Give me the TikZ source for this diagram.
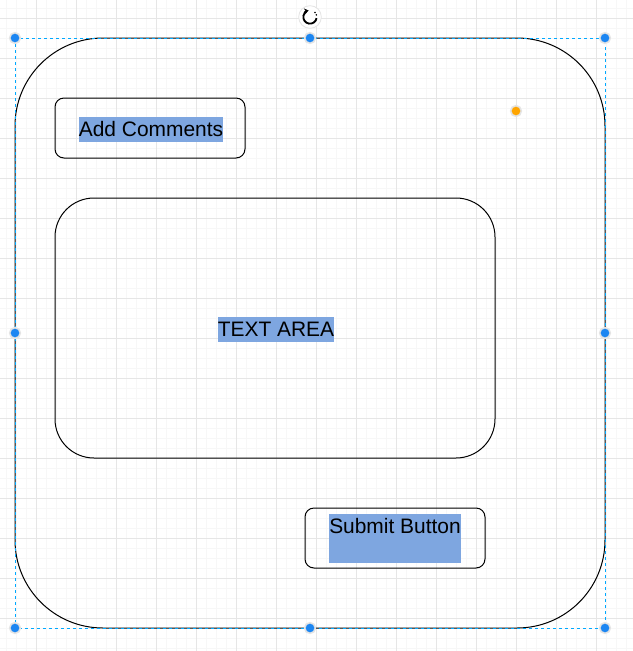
\documentclass[tikz,border=0pt]{standalone}
\usepackage{fontspec}
\setmainfont{Liberation Sans}
\usetikzlibrary{arrows.meta}
\definecolor{gridmajor}{HTML}{E6E6E6}
\definecolor{gridminor}{HTML}{F7F7F7}
\definecolor{selblue}{HTML}{00A8FF}
\definecolor{handleblue}{HTML}{1C86F2}
\definecolor{handlering}{HTML}{E4E4E4}
\definecolor{hl}{HTML}{7EA6E0}
\definecolor{orangehandle}{HTML}{FFA500}
\tikzset{
  shapebox/.style={draw=black, line width=0.75pt, inner sep=0pt, outer sep=0pt, fill=none},
  hltext/.style={fill=hl, inner sep=0pt, outer sep=0pt, font=\fontsize{15.7pt}{18.8pt}\selectfont, text height=14.85pt, text depth=3.9pt, anchor=north},
  handle/.style={circle, fill=handleblue, draw=handlering, line width=1.2pt, inner sep=0pt, minimum size=8pt},
  selline/.style={draw=selblue, line width=0.75pt, dash pattern=on 2.25pt off 2.25pt}
}
\begin{document}
\begin{tikzpicture}[x=0.75pt,y=-0.75pt]
\useasboundingbox[fill=white] (0,0) rectangle (633,651);
% grid
\foreach \gx in {6,16,...,636} {\draw[gridminor, line width=0.75pt] (\gx,0) -- (\gx,651);}
\foreach \gy in {8,18,...,651} {\draw[gridminor, line width=0.75pt] (0,\gy) -- (633,\gy);}
\foreach \gx in {36,76,...,636} {\draw[gridmajor, line width=0.75pt] (\gx,0) -- (\gx,651);}
\foreach \gy in {18,58,...,651} {\draw[gridmajor, line width=0.75pt] (0,\gy) -- (633,\gy);}
% shapes
\node[shapebox, rounded corners=66pt, minimum width=442.5pt, minimum height=442.5pt] (outer) at (310,333) {};
\node[shapebox, rounded corners=6.75pt, minimum width=142.5pt, minimum height=45pt] (addbox) at (150,128) {};
\node[shapebox, rounded corners=29.25pt, minimum width=330pt, minimum height=195pt] (textbox) at (275,328) {};
\node[shapebox, rounded corners=6.75pt, minimum width=135pt, minimum height=45pt] (submitbox) at (395,538) {};
% labels
\node[hltext] (addlabel) at (151,117) {Add Comments};
\node[hltext] (textlabel) at (276,317) {TEXT AREA};
\node[hltext, text depth=21.9pt] (submitlabel) at (395,514) {Submit Button};
% selection
\draw[selline] (outer.north west) rectangle (outer.south east);
\foreach \hx/\hy/\hn in {15/38/h1,310/38/h2,605/38/h3,15/333/h4,605/333/h5,15/628/h6,310/628/h7,605/628/h8}
  {\node[handle] (\hn) at (\hx,\hy) {};}
\node[circle, fill=orangehandle, draw=handlering, line width=1.2pt, inner sep=0pt, minimum size=8pt] (archandle) at (516,111) {};
% rotate icon
\node[circle, fill=white, draw=handlering, line width=0.6pt, minimum size=17pt, inner sep=0pt] (rot) at (310,17) {};
\draw[line width=1.4pt, -{Stealth[length=3.2pt,width=4.5pt]}] (rot.center) ++(-10:5pt) arc[start angle=-10, end angle=-258, radius=5pt];
\fill (rot.center) ++(18:5pt) circle (0.65pt);
\fill (rot.center) ++(42:5pt) circle (0.65pt);
\end{tikzpicture}
\end{document}
